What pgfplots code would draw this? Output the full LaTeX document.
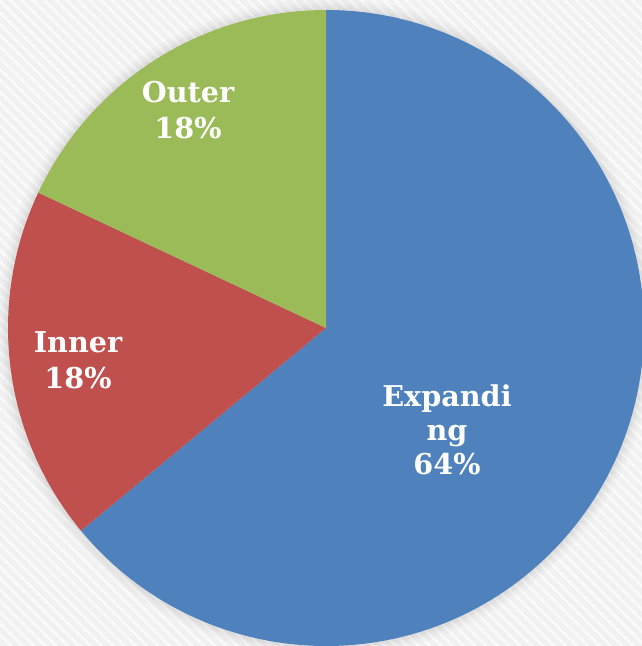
\documentclass[border=0pt]{standalone}
\usepackage{pgfplots}
\pgfplotsset{compat=1.18}
\usepackage{pgfplotstable}
\usepackage{fontspec}
\setmainfont{DejaVu Serif}
\usetikzlibrary{patterns.meta}
\definecolor{cblue}{HTML}{4F81BD}
\definecolor{cred}{HTML}{C0504D}
\definecolor{cgreen}{HTML}{9BBB59}
\definecolor{bgA}{HTML}{F1F1F1}
\definecolor{bgB}{HTML}{FAFAFA}
\pgfplotstableread{
label value
Expanding 64
Inner 18
Outer 18
}\piedata
\begin{document}
\begin{tikzpicture}
\pgfplotstablegetelem{0}{value}\of\piedata \edef\va{\pgfplotsretval}
\pgfplotstablegetelem{1}{value}\of\piedata \edef\vb{\pgfplotsretval}
\pgfplotstablegetelem{2}{value}\of\piedata \edef\vc{\pgfplotsretval}
\pgfmathsetmacro\aA{90}
\pgfmathsetmacro\aB{90-3.6*\va}
\pgfmathsetmacro\aC{\aB-3.6*\vb}
\pgfmathsetmacro\aD{\aC-3.6*\vc}
\begin{axis}[
  width=481.5pt, height=484.5pt, scale only axis,
  xmin=0, xmax=642, ymin=0, ymax=646,
  hide axis, clip=true,
]
\fill[bgA] (axis cs:0,0) rectangle (axis cs:642,646);
\fill[pattern={Lines[angle=-45,distance=6pt,line width=2pt]}, pattern color=bgB] (axis cs:0,0) rectangle (axis cs:642,646);
% soft shadow
\fill[black, opacity=0.02] (axis cs:326,318) circle[radius=246.5pt];
\fill[black, opacity=0.02] (axis cs:326,318) circle[radius=244pt];
\fill[black, opacity=0.025] (axis cs:326,318) circle[radius=242pt];
\fill[black, opacity=0.025] (axis cs:326,318) circle[radius=240.5pt];
\fill[cblue] (axis cs:326,318) -- ([shift={(\aA:238.5pt)}]axis cs:326,318) arc[start angle=\aA, end angle=\aB, radius=238.5pt] -- cycle;
\fill[cred] (axis cs:326,318) -- ([shift={(\aB:238.5pt)}]axis cs:326,318) arc[start angle=\aB, end angle=\aC, radius=238.5pt] -- cycle;
\fill[cgreen] (axis cs:326,318) -- ([shift={(\aC:238.5pt)}]axis cs:326,318) arc[start angle=\aC, end angle=\aD, radius=238.5pt] -- cycle;
\node[text=white, font=\fontsize{21.5pt}{25.5pt}\selectfont\bfseries, align=center] at (axis cs:447,216) {Expandi\\ng\\64\%};
\node[text=white, font=\fontsize{21.5pt}{27pt}\selectfont\bfseries, align=center] at (axis cs:78,286) {Inner\\18\%};
\node[text=white, font=\fontsize{21.5pt}{27pt}\selectfont\bfseries, align=center] at (axis cs:188,536) {Outer\\18\%};
\end{axis}
\end{tikzpicture}
\end{document}
